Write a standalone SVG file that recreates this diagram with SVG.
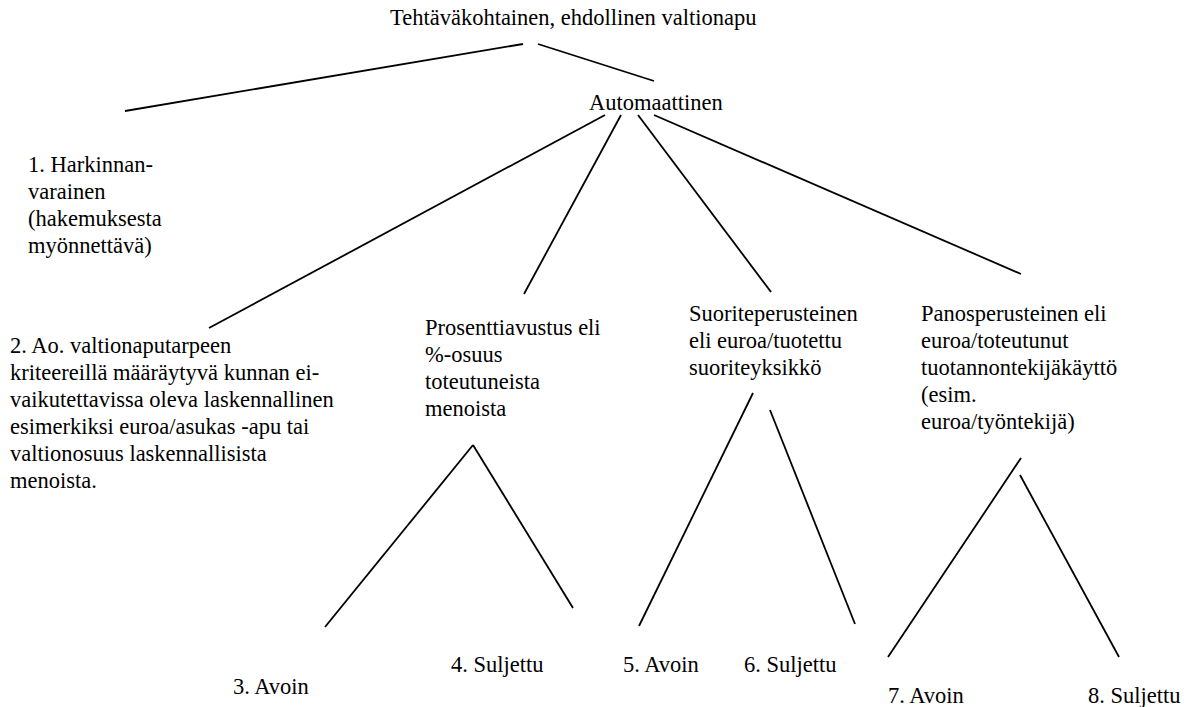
<svg xmlns="http://www.w3.org/2000/svg" width="1187" height="707" viewBox="0 0 1187 707">
<style>
text{font-family:'Liberation Serif','Times New Roman',serif;font-size:22.5px;fill:#000}
.c line{stroke:#000;stroke-width:1.8;stroke-linecap:butt}
</style>
<rect width="1187" height="707" fill="#fff"/>
<g id="connectors" class="c">
<line x1="523" y1="44" x2="125" y2="111"/>
<line x1="538" y1="44" x2="654" y2="81"/>
<line x1="605" y1="115" x2="209" y2="328"/>
<line x1="621" y1="115" x2="524" y2="294"/>
<line x1="638" y1="115" x2="771" y2="292"/>
<line x1="654" y1="115" x2="1021" y2="274"/>
<line x1="473" y1="445" x2="325" y2="627"/>
<line x1="473" y1="445" x2="573" y2="608"/>
<line x1="753" y1="393" x2="639" y2="626"/>
<line x1="770" y1="410" x2="855" y2="624"/>
<line x1="1021" y1="458" x2="888" y2="657"/>
<line x1="1020" y1="475" x2="1119" y2="657"/>
</g>
<g id="root"><text x="390" y="25">Tehtäväkohtainen, ehdollinen valtionapu</text></g>
<g id="automaattinen"><text x="589" y="110">Automaattinen</text></g>
<g id="n1"><text x="28" y="172">1. Harkinnan-<tspan x="28" y="199">varainen</tspan><tspan x="28" y="226">(hakemuksesta</tspan><tspan x="28" y="253">myönnettävä)</tspan></text></g>
<g id="n2"><text x="10" y="353">2. Ao. valtionaputarpeen<tspan x="10" y="380">kriteereillä määräytyvä kunnan ei-</tspan><tspan x="10" y="407">vaikutettavissa oleva laskennallinen</tspan><tspan x="10" y="434">esimerkiksi euroa/asukas -apu tai</tspan><tspan x="10" y="461">valtionosuus laskennallisista</tspan><tspan x="10" y="488">menoista.</tspan></text></g>
<g id="prosentti"><text x="425" y="335">Prosenttiavustus eli<tspan x="425" y="362">%-osuus</tspan><tspan x="425" y="389">toteutuneista</tspan><tspan x="425" y="416">menoista</tspan></text></g>
<g id="suorite"><text x="689" y="321">Suoriteperusteinen<tspan x="689" y="348">eli euroa/tuotettu</tspan><tspan x="689" y="375">suoriteyksikkö</tspan></text></g>
<g id="panos"><text x="921" y="321">Panosperusteinen eli<tspan x="921" y="348">euroa/toteutunut</tspan><tspan x="921" y="375">tuotannontekijäkäyttö</tspan><tspan x="921" y="402">(esim.</tspan><tspan x="921" y="429">euroa/työntekijä)</tspan></text></g>
<g id="n3"><text x="233" y="694">3. Avoin</text></g>
<g id="n4"><text x="451" y="672">4. Suljettu</text></g>
<g id="n5"><text x="623" y="672">5. Avoin</text></g>
<g id="n6"><text x="744" y="672">6. Suljettu</text></g>
<g id="n7"><text x="888" y="703">7. Avoin</text></g>
<g id="n8"><text x="1088" y="703">8. Suljettu</text></g>
</svg>
